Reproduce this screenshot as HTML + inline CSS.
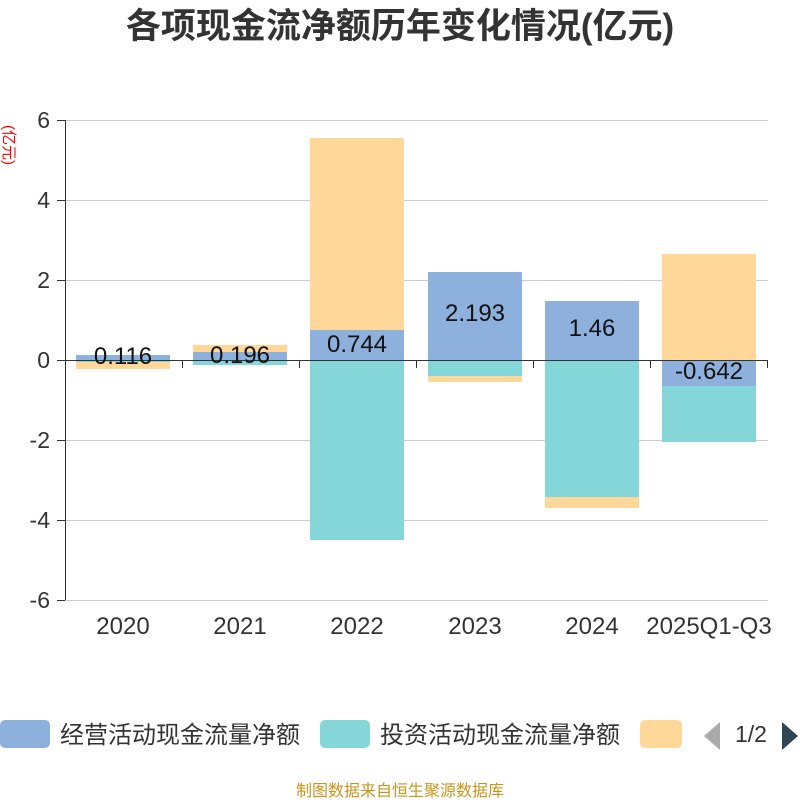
<!DOCTYPE html>
<html><head><meta charset="utf-8"><style>
body{margin:0;background:#fff;}
svg text{font-family:"Liberation Sans","Noto Sans CJK SC",sans-serif;}
</style></head><body>
<svg width="800" height="800" viewBox="0 0 800 800" xmlns="http://www.w3.org/2000/svg">
<text x="400" y="38" text-anchor="middle" font-size="35" font-weight="bold" fill="#333">各项现金流净额历年变化情况(亿元)</text>
<text transform="translate(4,145) rotate(90)" text-anchor="middle" font-size="15" fill="#f00">(亿元)</text>
<g stroke="#ccc" stroke-width="1">
<line x1="65" y1="120.5" x2="768" y2="120.5"/><line x1="65" y1="200.5" x2="768" y2="200.5"/><line x1="65" y1="280.5" x2="768" y2="280.5"/>
<line x1="65" y1="440.5" x2="768" y2="440.5"/><line x1="65" y1="520.5" x2="768" y2="520.5"/><line x1="65" y1="600.5" x2="768" y2="600.5"/>
</g>
<g stroke="#333" stroke-width="1">
<line x1="57" y1="120.5" x2="65" y2="120.5"/><line x1="57" y1="200.5" x2="65" y2="200.5"/><line x1="57" y1="280.5" x2="65" y2="280.5"/><line x1="57" y1="360.5" x2="65" y2="360.5"/><line x1="57" y1="440.5" x2="65" y2="440.5"/><line x1="57" y1="520.5" x2="65" y2="520.5"/><line x1="57" y1="600.5" x2="65" y2="600.5"/>
</g>
<g font-size="23" fill="#333" text-anchor="end">
<text x="50" y="128">6</text><text x="50" y="208">4</text><text x="50" y="288">2</text><text x="50" y="368">0</text><text x="50" y="448">-2</text><text x="50" y="528">-4</text><text x="50" y="608">-6</text>
</g>
<g>
<rect x="76" y="355" width="94" height="5" fill="#8eb0dc"/><rect x="76" y="360" width="94" height="2" fill="#85d6d8"/><rect x="76" y="362" width="94" height="7" fill="#ffd899"/>
<rect x="193" y="345" width="94" height="7" fill="#ffd899"/><rect x="193" y="352" width="94" height="8" fill="#8eb0dc"/><rect x="193" y="360" width="94" height="5" fill="#85d6d8"/>
<rect x="310" y="138" width="94" height="192" fill="#ffd899"/><rect x="310" y="330" width="94" height="30" fill="#8eb0dc"/><rect x="310" y="360" width="94" height="180" fill="#85d6d8"/>
<rect x="428" y="272" width="94" height="88" fill="#8eb0dc"/><rect x="428" y="360" width="94" height="16" fill="#85d6d8"/><rect x="428" y="376" width="94" height="6" fill="#ffd899"/>
<rect x="545" y="301" width="94" height="59" fill="#8eb0dc"/><rect x="545" y="360" width="94" height="137" fill="#85d6d8"/><rect x="545" y="497" width="94" height="11" fill="#ffd899"/>
<rect x="662" y="254" width="94" height="106" fill="#ffd899"/><rect x="662" y="360" width="94" height="26" fill="#8eb0dc"/><rect x="662" y="386" width="94" height="56" fill="#85d6d8"/>
</g>
<line x1="65.5" y1="120" x2="65.5" y2="600" stroke="#333"/>
<line x1="57" y1="360.5" x2="768" y2="360.5" stroke="#333"/>
<g stroke="#333"><line x1="182.5" y1="360" x2="182.5" y2="368"/><line x1="299.5" y1="360" x2="299.5" y2="368"/><line x1="416.5" y1="360" x2="416.5" y2="368"/><line x1="533.5" y1="360" x2="533.5" y2="368"/><line x1="650.5" y1="360" x2="650.5" y2="368"/><line x1="767.5" y1="360" x2="767.5" y2="368"/></g>
<g font-size="24" fill="#111" text-anchor="middle">
<text x="123" y="364">0.116</text><text x="240" y="363">0.196</text><text x="357" y="352">0.744</text><text x="475" y="321">2.193</text><text x="592" y="336">1.46</text><text x="709" y="379">-0.642</text>
</g>
<g font-size="24" fill="#333" text-anchor="middle">
<text x="123" y="634">2020</text><text x="240" y="634">2021</text><text x="357" y="634">2022</text><text x="475" y="634">2023</text><text x="592" y="634">2024</text><text x="709" y="634">2025Q1-Q3</text>
</g>
<rect x="0" y="720" width="50" height="28" rx="5" fill="#8eb0dc"/>
<text x="60" y="743" font-size="24" fill="#333">经营活动现金流量净额</text>
<rect x="320" y="720" width="50" height="28" rx="5" fill="#85d6d8"/>
<text x="380" y="743" font-size="24" fill="#333">投资活动现金流量净额</text>
<rect x="640" y="720" width="42" height="28" rx="5" fill="#ffd899"/>
<polygon points="720,722 720,750 704,736" fill="#aaa"/>
<text x="751" y="742" font-size="23" fill="#333" text-anchor="middle">1/2</text>
<polygon points="782,722 782,750 798,736" fill="#2f4554"/>
<text x="400" y="796" font-size="16" fill="#c8961e" text-anchor="middle">制图数据来自恒生聚源数据库</text>
</svg>
</body></html>
